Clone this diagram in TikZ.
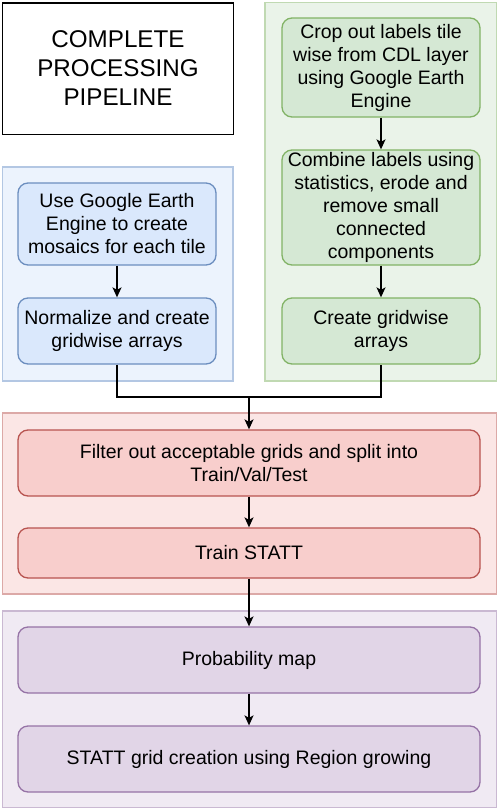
\documentclass[tikz,border=0pt]{standalone}
\usepackage{fontspec}
\setmainfont{Liberation Sans}
\usetikzlibrary{arrows.meta}
\definecolor{bfill}{HTML}{DAE8FC}\definecolor{bdraw}{HTML}{6C8EBF}
\definecolor{gfill}{HTML}{D5E8D4}\definecolor{gdraw}{HTML}{82B366}
\definecolor{rfill}{HTML}{F8CECC}\definecolor{rdraw}{HTML}{B85450}
\definecolor{pfill}{HTML}{E1D5E7}\definecolor{pdraw}{HTML}{9673A6}
\definecolor{bgfill}{HTML}{ECF3FD}\definecolor{bgdraw}{HTML}{B3C7E3}
\definecolor{ggfill}{HTML}{EAF3E9}\definecolor{ggdraw}{HTML}{C0D9B2}
\definecolor{rgfill}{HTML}{FBE6E5}\definecolor{rgdraw}{HTML}{DCA9A7}
\definecolor{pgfill}{HTML}{F0EAF3}\definecolor{pgdraw}{HTML}{CAB9D2}
\tikzset{
  stepbox/.style={rounded corners=10pt, line width=1.3pt, align=center, inner sep=0pt,
    font=\fontsize{19.5}{23}\selectfont},
  bluebox/.style={stepbox, fill=bfill, draw=bdraw},
  greenbox/.style={stepbox, fill=gfill, draw=gdraw},
  redbox/.style={stepbox, fill=rfill, draw=rdraw},
  purplebox/.style={stepbox, fill=pfill, draw=pdraw},
  groupbox/.style={line width=1.3pt},
  flow/.style={line width=1.3pt, -{Stealth[length=10pt,width=9pt,inset=2.5pt]}},
  plain/.style={line width=1.3pt},
}
\begin{document}
\begin{tikzpicture}[x=1pt,y=-1pt]
\useasboundingbox (0,0) rectangle (498,809);
% groups
\draw[groupbox, fill=bgfill, draw=bgdraw] (2.5,167) rectangle (233,381);
\draw[groupbox, fill=ggfill, draw=ggdraw] (265,2.5) rectangle (496.5,381);
\draw[groupbox, fill=rgfill, draw=rgdraw] (2.5,413) rectangle (496.5,594);
\draw[groupbox, fill=pgfill, draw=pgdraw] (2.5,611) rectangle (496.5,807.5);
% title
\node[draw=black, line width=1.5pt, fill=white, minimum width=231pt, minimum height=131.5pt,
  align=center, inner sep=0pt, font=\fontsize{24.2}{29}\selectfont] (title) at (118,68.5)
  {COMPLETE\\PROCESSING\\PIPELINE};
% blue
\node[bluebox, minimum width=198pt, minimum height=82pt] (b1) at (117,224)
  {Use Google Earth\\Engine to create\\mosaics for each tile};
\node[bluebox, minimum width=198pt, minimum height=66pt] (b2) at (117,331)
  {Normalize and create\\gridwise arrays};
% green
\node[greenbox, minimum width=198pt, minimum height=99pt] (g1) at (381,67.5)
  {Crop out labels tile\\wise from CDL layer\\using Google Earth\\Engine};
\node[greenbox, minimum width=198pt, minimum height=115pt] (g2) at (381,207.5)
  {Combine labels using\\statistics, erode and\\remove small\\connected\\components};
\node[greenbox, minimum width=198pt, minimum height=66pt] (g3) at (381,331)
  {Create gridwise\\arrays};
% red
\node[redbox, minimum width=462pt, minimum height=66pt] (r1) at (249,463)
  {Filter out acceptable grids and split into\\Train/Val/Test};
\node[redbox, minimum width=462pt, minimum height=50pt] (r2) at (249,553)
  {Train STATT};
% purple
\node[purplebox, minimum width=462pt, minimum height=66pt] (p1) at (249,660)
  {Probability map};
\node[purplebox, minimum width=462pt, minimum height=66pt] (p2) at (249,759)
  {STATT grid creation using Region growing};
% connectors
\coordinate (j) at (249,397);
\draw[flow] (b1) -- (b2);
\draw[flow] (g1) -- (g2);
\draw[flow] (g2) -- (g3);
\draw[plain] (b2.south) |- (j) -| (g3.south);
\draw[flow] (j) -- (r1.north);
\draw[flow] (r1) -- (r2);
\draw[flow] (r2) -- (p1);
\draw[flow] (p1) -- (p2);
\end{tikzpicture}
\end{document}
